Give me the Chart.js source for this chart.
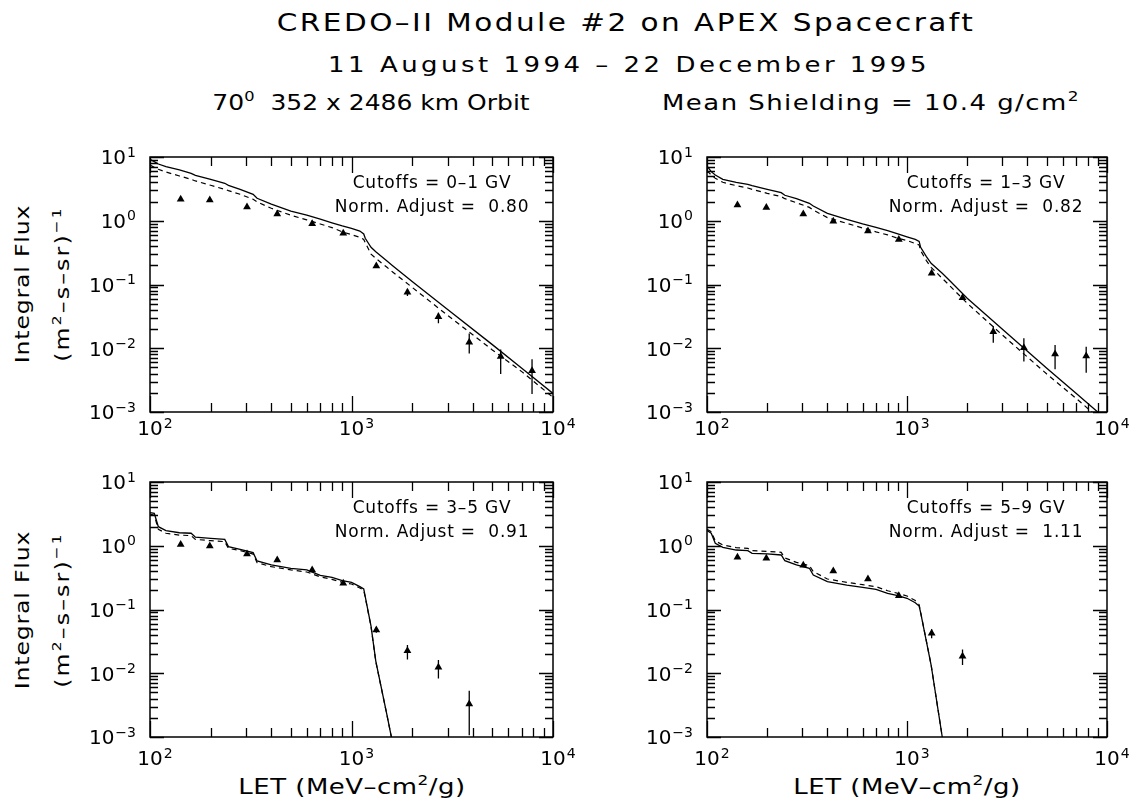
<!DOCTYPE html>
<html><head><meta charset="utf-8">
<script src="https://cdn.jsdelivr.net/npm/chart.js@4.4.0/dist/chart.umd.min.js"></script>
<style>
body{margin:0;background:#fff;}
#wrap{position:relative;width:1136px;height:808px;overflow:hidden;font-family:"DejaVu Sans",sans-serif;color:#000;background:#fff;}
.t{position:absolute;white-space:nowrap;line-height:1;transform:translate(-50%,-50%);}
.t sup{font-size:65%;vertical-align:0;position:relative;top:-0.6em;}
.yl{position:absolute;white-space:nowrap;line-height:1;transform:translate(-50%,-50%) rotate(-90deg);font-size:20px;}
.yl sup{font-size:65%;vertical-align:0;position:relative;top:-0.6em;}
canvas{position:absolute;}
</style></head>
<body>
<div id="wrap">
  <div class="t fit" data-w="698" style="left:626px;top:22px;font-size:25px">CREDO–II Module #2 on APEX Spacecraft</div>
  <div class="t fit" data-w="602" style="left:629px;top:65px;font-size:22px">11 August 1994 – 22 December 1995</div>
  <div class="t fit" data-w="317" style="left:371px;top:103px;font-size:22px">70<sup>0</sup>&nbsp;&nbsp;352 x 2486 km Orbit</div>
  <div class="t fit" data-w="418" style="left:871px;top:103px;font-size:22px">Mean Shielding = 10.4 g/cm<sup>2</sup></div>

  <div class="yl fit" data-w="158" style="left:22px;top:284px">Integral Flux</div>
  <div class="yl fit" data-w="156" style="left:62px;top:284px">(m<sup>2</sup>–s–sr)<sup>−1</sup></div>
  <div class="yl fit" data-w="158" style="left:22px;top:610px">Integral Flux</div>
  <div class="yl fit" data-w="156" style="left:62px;top:610px">(m<sup>2</sup>–s–sr)<sup>−1</sup></div>

  <div class="t fit" data-w="227" style="left:352px;top:787px;font-size:22px">LET (MeV–cm<sup>2</sup>/g)</div>
  <div class="t fit" data-w="227" style="left:907px;top:787px;font-size:22px">LET (MeV–cm<sup>2</sup>/g)</div>

  <canvas id="c1" width="500" height="330" style="left:80px;top:140px"></canvas>
  <canvas id="c2" width="500" height="330" style="left:636px;top:140px"></canvas>
  <canvas id="c3" width="500" height="343" style="left:80px;top:465px"></canvas>
  <canvas id="c4" width="500" height="343" style="left:636px;top:465px"></canvas>
</div>
<script>
// ---- tick labels (powers of ten) ----
const xTickExps = [2, 3, 4];
const yTickExps = [-3, -2, -1, 0, 1];

// ---- panel annotations ----
const cutoffLabels = ['Cutoffs = 0–1 GV', 'Cutoffs = 1–3 GV', 'Cutoffs = 3–5 GV', 'Cutoffs = 5–9 GV'];
const normLabels = ['Norm. Adjust =  0.80', 'Norm. Adjust =  0.82', 'Norm. Adjust =  0.91', 'Norm. Adjust =  1.11'];

// ---- model curves (LET grid, MeV-cm2/g) ----
const modelLET = [100,105,110,120,140,160,168,200,235,245,280,325,340,400,500,600,700,800,900,1000,1100,1150,1170,1250,1320,1500,1600,2000,3000,5000,7000,10000];
const p1Solid  = [9.2,8.45,7.76,7.05,6.26,5.55,5.15,4.47,3.87,3.60,3.11,2.60,2.25,1.83,1.42,1.22,1.06,0.93,0.83,0.76,0.69,0.62,0.53,0.383,0.327,0.234,0.197,0.111,0.0407,0.0114,0.00485,0.00196];
const p1Dashed = [7.50,6.89,6.41,5.82,5.04,4.47,4.21,3.60,3.11,2.97,2.60,2.17,1.97,1.57,1.22,1.03,0.89,0.78,0.67,0.605,0.55,0.51,0.453,0.30,0.257,0.186,0.157,0.0903,0.0328,0.0094,0.0043,0.0017];
const p2Solid  = [7.22,5.89,5.22,4.47,4.01,3.73,3.55,3.11,2.76,2.51,2.22,1.88,1.70,1.31,1.05,0.89,0.79,0.70,0.62,0.56,0.51,0.475,0.383,0.273,0.215,0.150,0.123,0.0607,0.0198,0.00484,0.00196,0.00075];
const p2Dashed = [6.11,5.22,4.63,4.01,3.55,3.26,3.11,2.69,2.39,2.22,1.92,1.62,1.47,1.12,0.91,0.77,0.67,0.60,0.53,0.49,0.44,0.417,0.34,0.237,0.186,0.125,0.1026,0.0507,0.0161,0.00394,0.00164,0.000625];
const p3Solid  = [3.30,3.22,1.99,1.73,1.60,1.57,1.36,1.31,1.26,0.97,0.88,0.78,0.577,0.50,0.44,0.417,0.343,0.32,0.283,0.267,0.228,0.21,0.159,0.055,0.0155,0.0022,0.0008,null,null,null,null,null];
const p3Dashed = [3.15,3.00,1.81,1.57,1.47,1.44,1.26,1.20,1.16,0.91,0.84,0.74,0.543,0.47,0.417,0.388,0.324,0.297,0.267,0.251,0.217,0.202,0.155,0.054,0.0152,0.0022,0.0008,null,null,null,null,null];
const p4Solid  = [1.73,1.57,1.09,0.944,0.857,0.837,0.76,0.743,0.716,0.583,0.50,0.443,0.348,0.273,0.242,0.223,0.207,0.179,0.165,0.150,0.128,0.1135,0.089,0.0317,0.01346,0.00101,0.0003,null,null,null,null,null];
const p4Dashed = [1.81,1.66,1.19,1.03,0.933,0.91,0.837,0.817,0.788,0.643,0.549,0.487,0.393,0.301,0.267,0.245,0.228,0.197,0.179,0.163,0.138,0.119,0.09,0.032,0.0135,0.00101,0.0003,null,null,null,null,null];

// ---- measured points ----
const obsLET = [142,198,303,428,638,910,1328,1895,2700,3840,5500,7870];
const p1Flux = [2.17,2.12,1.64,1.28,0.90,0.635,0.195,0.0755,0.0313,0.0124,0.0074,0.00445];
const p1Lo   = [null,null,null,null,null,null,0.185,0.066,0.0246,0.0083,0.00394,0.00191];
const p1Hi   = [null,null,null,null,null,null,0.205,0.084,0.0361,0.0171,0.0096,0.00671];
const p2Flux = [1.77,1.62,1.28,0.98,0.69,0.51,0.150,0.0621,0.0182,0.0102,0.00813,0.00755];
const p2Lo   = [null,null,null,null,null,null,0.143,0.057,0.01225,0.0062,0.00467,0.00414];
const p2Hi   = [null,null,null,null,null,null,0.158,0.068,0.0223,0.0143,0.01125,0.0106];
const p3Flux = [1.05,0.99,0.743,0.597,0.417,0.257,0.0477,0.0226,0.0124,0.0033];
const p3Lo   = [null,null,null,null,null,null,0.043,0.0165,0.0083,0.00107];
const p3Hi   = [null,null,null,null,null,null,0.053,0.0277,0.0161,0.00532];
const p4Flux = [0.658,0.635,0.493,0.402,0.301,0.165,0.0423,0.0185];
const p4Lo   = [null,null,null,null,null,null,0.0353,0.0135];
const p4Hi   = [null,null,null,null,null,null,0.0489,0.0235];

// ---- fit text widths: widen glyphs a little, then letter-space the rest ----
document.querySelectorAll('.fit').forEach(el => {
  el.style.letterSpacing = '0px';
  const w0 = el.offsetWidth;
  const n = el.textContent.length;
  const target = parseFloat(el.dataset.w);
  const s = Math.min(target / w0, 1.18);
  const ls = (target / s - w0) / n;
  el.style.letterSpacing = ls.toFixed(2) + 'px';
  const rot = el.classList.contains('yl') ? ' rotate(-90deg)' : '';
  el.style.transform = 'translate(-50%,-50%)' + rot + ' scaleX(' + s.toFixed(3) + ')';
});

const FONT = '"DejaVu Sans", sans-serif';
function powLabel(ctx, px, py, e, mode) {
  const base = '10';
  const ex = e < 0 ? '−' + (-e) : String(e);
  ctx.font = '20px ' + FONT;
  const wb = ctx.measureText(base).width;
  ctx.font = '14px ' + FONT;
  const we = ctx.measureText(ex).width;
  let xb;
  if (mode === 'y') xb = px - we - wb - 1; else xb = px - wb / 2;
  ctx.textAlign = 'left';
  ctx.textBaseline = 'alphabetic';
  ctx.font = '20px ' + FONT;
  ctx.fillText(base, xb, py + 7.3);
  ctx.font = '14px ' + FONT;
  ctx.fillText(ex, xb + wb + 1, py - 0.5);
}

const framePlugin = {
  id: 'frame',
  afterDatasetsDraw(chart, args, opts) {
    const ctx = chart.ctx, a = chart.chartArea, xs = chart.scales.x, ys = chart.scales.y;
    ctx.save();
    // error bars
    chart.data.datasets.forEach(ds => {
      if (!ds.errLo) return;
      ctx.strokeStyle = '#000'; ctx.lineWidth = 1.3;
      ctx.beginPath();
      ds.data.forEach((p, i) => {
        if (ds.errLo[i] == null) return;
        const px = xs.getPixelForValue(p.x);
        ctx.moveTo(px, ys.getPixelForValue(ds.errLo[i]));
        ctx.lineTo(px, ys.getPixelForValue(ds.errHi[i]));
      });
      ctx.stroke();
    });
    // frame
    ctx.strokeStyle = '#000';
    ctx.lineWidth = 1.5;
    ctx.strokeRect(a.left, a.top, a.right - a.left, a.bottom - a.top);
    ctx.lineWidth = 1.3;
    ctx.beginPath();
    const xmax = Math.pow(10, xTickExps[xTickExps.length - 1]);
    xTickExps.forEach(d => {
      for (let m = 1; m <= 9; m++) {
        const v = m * Math.pow(10, d);
        if (v > xmax * 1.0001) continue;
        const px = Math.round(xs.getPixelForValue(v)) + 0.5;
        const len = m === 1 ? 16 : 9;
        ctx.moveTo(px, a.bottom); ctx.lineTo(px, a.bottom - len);
        ctx.moveTo(px, a.top); ctx.lineTo(px, a.top + len);
      }
    });
    const ymax = Math.pow(10, yTickExps[yTickExps.length - 1]);
    yTickExps.forEach(d => {
      for (let m = 1; m <= 9; m++) {
        const v = m * Math.pow(10, d);
        if (v > ymax * 1.0001) continue;
        const py = Math.round(ys.getPixelForValue(v)) + 0.5;
        const len = m === 1 ? 14 : 8;
        ctx.moveTo(a.left, py); ctx.lineTo(a.left + len, py);
        ctx.moveTo(a.right, py); ctx.lineTo(a.right - len, py);
      }
    });
    ctx.stroke();
    // tick labels
    ctx.fillStyle = '#000';
    xTickExps.forEach(d => powLabel(ctx, xs.getPixelForValue(Math.pow(10, d)), a.bottom + opts.xoff, d, 'x'));
    yTickExps.forEach(d => powLabel(ctx, a.left - 14, ys.getPixelForValue(Math.pow(10, d)), d, 'y'));
    // annotations
    ctx.font = '17px ' + FONT;
    ctx.letterSpacing = '0.8px';
    ctx.textAlign = 'center';
    ctx.textBaseline = 'middle';
    const cx = a.right - 121;
    ctx.fillText(opts.cut, cx, a.top + 27);
    ctx.fillText(opts.norm, cx, a.top + 51);
    ctx.restore();
  }
};

function pts(xArr, yArr) { return xArr.map((x, i) => ({ x: x, y: yArr[i] })).slice(0, yArr.length); }

function makeChart(id, solid, dashed, flux, lo, hi, idx, pad, xoff) {
  new Chart(document.getElementById(id), {
    type: 'line',
    data: {
      datasets: [
        { data: pts(modelLET, solid), borderColor: '#000', borderWidth: 1.3, pointRadius: 0, tension: 0, fill: false },
        { data: pts(modelLET, dashed), borderColor: '#000', borderWidth: 1.2, borderDash: [5, 4], pointRadius: 0, tension: 0, fill: false },
        { data: pts(obsLET, flux), showLine: false, pointStyle: 'triangle', pointRadius: 4.5, pointBackgroundColor: '#000', pointBorderColor: '#000', pointBorderWidth: 0, errLo: lo, errHi: hi }
      ]
    },
    options: {
      responsive: false, animation: false, devicePixelRatio: 1,
      layout: { padding: pad },
      scales: {
        x: { type: 'logarithmic', min: 100, max: 10000, display: false },
        y: { type: 'logarithmic', min: 0.001, max: 10, display: false }
      },
      plugins: {
        legend: { display: false }, tooltip: { enabled: false },
        frame: { xoff: xoff, cut: cutoffLabels[idx], norm: normLabels[idx] }
      }
    },
    plugins: [framePlugin]
  });
}

makeChart('c1', p1Solid, p1Dashed, p1Flux, p1Lo, p1Hi, 0, { left: 70, top: 17, right: 27, bottom: 58 }, 16);
makeChart('c2', p2Solid, p2Dashed, p2Flux, p2Lo, p2Hi, 1, { left: 71, top: 17, right: 29, bottom: 58 }, 16);
makeChart('c3', p3Solid, p3Dashed, p3Flux, p3Lo, p3Hi, 2, { left: 70, top: 17, right: 27, bottom: 71 }, 21);
makeChart('c4', p4Solid, p4Dashed, p4Flux, p4Lo, p4Hi, 3, { left: 71, top: 17, right: 29, bottom: 71 }, 21);
</script>
</body></html>
